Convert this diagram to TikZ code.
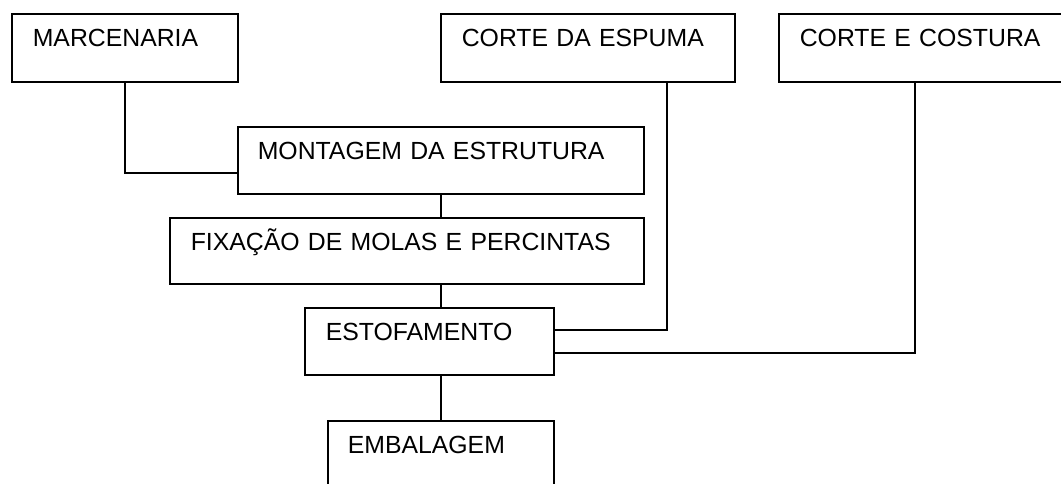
\documentclass[tikz,border=0pt]{standalone}
\usepackage{fontspec}
\setmainfont{Liberation Sans}
\usepackage{tikz}
\usetikzlibrary{calc}
\tikzset{
  kasten/.style={draw, line width=1.6pt, anchor=north west, align=left,
    inner xsep=21pt, inner ysep=0pt, text height=33pt,
    font=\fontsize{24.8}{30}\selectfont},
  linie/.style={line width=1.6pt}
}

\begin{document}
\begin{tikzpicture}[x=1pt,y=-1pt]
  \useasboundingbox (0,0) rectangle (1061,484);
  %Kaesten oben
  \node[kasten, text width=184pt, text depth=35pt] (marc) at (11,13) {MARCENARIA};
  \node[kasten, text width=252pt, text depth=35pt] (espuma) at (440,13) {CORTE DA ESPUMA};
  \node[kasten, text width=246pt, text depth=35pt] (costura) at (778,13) {CORTE E COSTURA};
  %Kaesten Mitte
  \node[kasten, inner xsep=20pt, text width=366pt, text depth=34pt] (mont) at (237,126) {MONTAGEM DA ESTRUTURA};
  \node[kasten, text width=432pt, text depth=33pt] (fix) at (169,217) {FIXAÇÃO DE MOLAS E PERCINTAS};
  \node[kasten, text width=207pt, text depth=34pt] (estof) at (304,307) {ESTOFAMENTO};
  \node[kasten, inner xsep=20pt, text width=186pt, text depth=40pt] (emb) at (327,420) {EMBALAGEM};

  %Verbindungen
  \draw[linie] (marc.south) |- ([yshift=-12.5pt]mont.west);
  \draw[linie] (mont.south) -- (mont.south |- fix.north);
  \draw[linie] (mont.south |- fix.south) -- (mont.south |- estof.north);
  \draw[linie] (emb.north |- estof.south) -- (emb.north);
  \draw[linie] ([xshift=79pt]espuma.south) |- ([yshift=11.5pt]estof.east);
  \draw[linie] ([xshift=-8pt]costura.south) |- ([yshift=-11.5pt]estof.east);
\end{tikzpicture}
\end{document}
